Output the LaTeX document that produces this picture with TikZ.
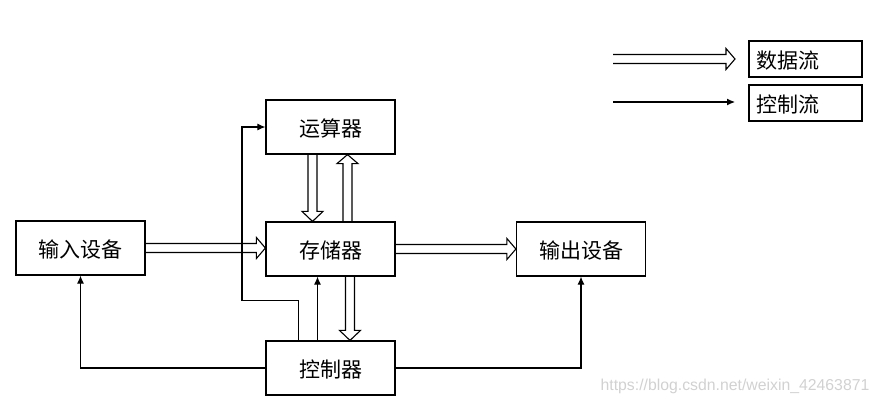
\documentclass[tikz,border=0pt]{standalone}
\usepackage{fontspec}
\setmainfont{Noto Sans CJK SC}
\newfontfamily\wmfont{Liberation Sans}
\usetikzlibrary{calc,arrows.meta}

% hollow block arrow pointing right, from #1 to the x of #2
\newcommand\hdata[2]{%
  \draw[dataflow] ($(#1)+(0,-4.5)$) -- ($(#2 |- #1)+(-9,-4.5)$) -- ($(#2 |- #1)+(-9,-10.5)$)
    -- (#2 |- #1) -- ($(#2 |- #1)+(-9,10.5)$) -- ($(#2 |- #1)+(-9,4.5)$) -- ($(#1)+(0,4.5)$);}
% hollow block arrow, vertical, from #1 to the y of #2; #3 = head base offset
\newcommand\vdata[3]{%
  \draw[dataflow] ($(#1)+(-4.5,0)$) -- ($(#1 |- #2)+(-4.5,#3)$) -- ($(#1 |- #2)+(-10.5,#3)$)
    -- (#1 |- #2) -- ($(#1 |- #2)+(10.5,#3)$) -- ($(#1 |- #2)+(4.5,#3)$) -- ($(#1)+(4.5,0)$);}

\tikzset{
  unit/.style={draw, line width=1.2pt, minimum width=129pt, minimum height=54pt,
    inner sep=0pt, text height=21pt, text depth=2pt, font=\fontsize{21}{25}\selectfont},
  legendbox/.style={draw, line width=1.2pt, minimum height=36pt, text width=99pt,
    inner xsep=7pt, inner ysep=0pt, align=left, text height=20pt, text depth=2pt,
    font=\fontsize{21}{25}\selectfont},
  dataflow/.style={line width=1.1pt, line join=miter},
  ctrlflow/.style={draw, line width=1.1pt, -{Latex[length=8pt,width=7pt]}},
}

\begin{document}
\begin{tikzpicture}[x=1pt,y=-1pt]
\useasboundingbox (0,0) rectangle (879,405);

% units of the machine
\node[unit] (alu)  at (330.5,127) {运算器};
\node[unit] (mem)  at (330.5,249) {存储器};
\node[unit] (ctrl) at (330.5,368) {控制器};
\node[unit] (in)   at (80.5,248)  {输入设备};
\node[unit] (out)  at (581,249)   {输出设备};

% legend
\node[legendbox] (ldata) at (805.5,59)  {数据流};
\node[legendbox] (lctrl) at (805.5,103) {控制流};
\coordinate (ld0) at (613,59);
\coordinate (ld1) at (735,59);
\coordinate (lc0) at (613,102);
\coordinate (lc1) at (735,102);
\hdata{ld0}{ld1}
\draw[ctrlflow] (lc0) -- (lc1);

% data paths
\hdata{in.east}{mem.west}
\hdata{mem.east}{out.west}
\coordinate (aluout) at ($(alu.south)+(-18,0)$);
\coordinate (aluin)  at ($(alu.south)+(17,0)$);
\coordinate (memdn)  at ($(mem.south)+(19.5,0)$);
\vdata{aluout}{mem.north}{-10}
\vdata{aluin |- mem.north}{alu.south}{9}
\vdata{memdn}{ctrl.north}{-10}

% control paths
\coordinate (bend) at (242,300.5);
\draw[ctrlflow] ([xshift=-13pt]ctrl.north) -- ([xshift=-13pt]mem.south);
\draw[ctrlflow] ([xshift=-32pt]ctrl.north) |- (bend) |- (alu.west);
\draw[ctrlflow] (ctrl.west) -| (in.south);
\draw[ctrlflow] (ctrl.east) -| (out.south);

% watermark
\node[text=black!18, font=\wmfont\fontsize{15.8}{18}\selectfont] (wm) at (735,386)
  {https://blog.csdn.net/weixin\_42463871};
\end{tikzpicture}
\end{document}
